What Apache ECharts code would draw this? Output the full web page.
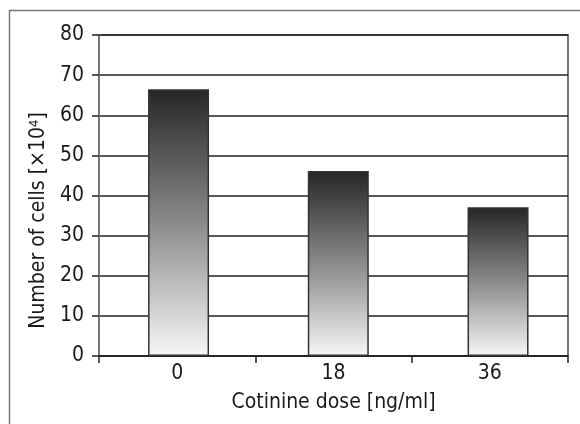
<!DOCTYPE html>
<html><head><meta charset="utf-8">
<script src="https://cdn.jsdelivr.net/npm/echarts@6/dist/echarts.min.js"></script>
<style>html,body{margin:0;padding:0;background:#fff}#c{width:580px;height:424px}</style>
</head><body><div id="c"></div>
<script>
var categories = ['0', '18', '36'];
var cellCounts = [66.5, 46.1, 37.1];
var yTicks = { min: 0, max: 80, interval: 10 };

var FONT = "'DejaVu Sans Condensed','Liberation Sans Narrow',sans-serif";
var barPoints = categories.map(function (c, i) { return [i, cellCounts[i]]; });
var chart = echarts.init(document.getElementById('c'), null, {renderer: 'canvas'});
chart.setOption({
  animation: false,
  backgroundColor: '#fff',
  graphic: [{
    type: 'rect', silent: true, z: -1,
    shape: {x: 9.5, y: 10.5, width: 620, height: 500},
    style: {fill: 'none', stroke: '#777', lineWidth: 1.5}
  }],
  grid: {left: 99, right: 12, top: 35, bottom: 68, show: true, borderColor: '#777', borderWidth: 2, backgroundColor: 'transparent'},
  xAxis: [{
    type: 'category', data: categories,
    name: 'Cotinine dose [ng/ml]', nameLocation: 'middle', nameGap: 36,
    nameTextStyle: {fontFamily: FONT, fontSize: 21, color: '#1a1a1a'},
    axisLine: {show: true, onZero: false, lineStyle: {color: '#222', width: 1.5}},
    axisTick: {show: true, alignWithLabel: false, length: 7, lineStyle: {color: '#222', width: 1.5}},
    axisLabel: {fontFamily: FONT, fontSize: 21, color: '#1a1a1a', margin: 7}
  }, {
    type: 'value', show: false, min: -0.498, max: 2.438,
    splitLine: {show: false}
  }],
  yAxis: {
    type: 'value', min: yTicks.min, max: yTicks.max, interval: yTicks.interval,
    name: 'Number of cells [\u00d710{sup|4}]', nameLocation: 'middle', nameGap: 50,
    nameTextStyle: {fontFamily: FONT, fontSize: 21, color: '#1a1a1a', padding: [0, 50, 0, 0],
      rich: {sup: {fontFamily: FONT, fontSize: 13, color: '#1a1a1a', verticalAlign: 'top', padding: [0, 0, 8, 0]}}},
    axisLine: {show: true, onZero: false, lineStyle: {color: '#777', width: 2}},
    axisTick: {show: true, length: 7, lineStyle: {color: '#222', width: 1.5}},
    axisLabel: {fontFamily: FONT, fontSize: 21, color: '#1a1a1a', margin: 15},
    splitLine: {show: true, lineStyle: {color: '#222', width: 1.5}}
  },
  series: [{
    type: 'bar', xAxisIndex: 1, data: barPoints, barWidth: 61,
    itemStyle: {
      borderColor: '#333', borderWidth: 1.5,
      color: new echarts.graphic.LinearGradient(0, 0, 0, 1, [
        {offset: 0, color: '#262626'},
        {offset: 0.5, color: '#8a8a8a'},
        {offset: 1, color: '#f7f7f7'}
      ])
    }
  }]
});
</script></body></html>
